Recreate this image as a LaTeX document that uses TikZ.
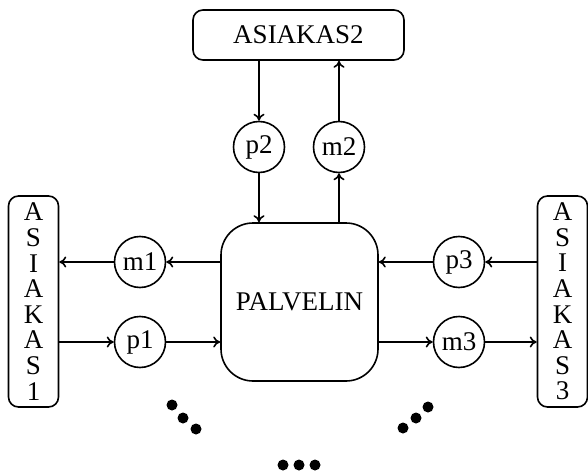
\documentclass[tikz,border=0pt]{standalone}
\usepackage{fontspec}
\setmainfont{Liberation Serif}
\usetikzlibrary{arrows.meta}
\tikzset{
  base/.style={draw, line width=1.6pt, inner sep=0pt, font=\fontsize{27}{25.6}\selectfont},
  client/.style={base, rounded corners=10pt},
  server/.style={base, rounded corners=32pt, minimum width=157pt, minimum height=158pt},
  msg/.style={base, circle, minimum size=51pt},
  vclient/.style={client, align=center, minimum width=50pt, minimum height=211pt},
  flow/.style={line width=1.6pt, -{To[length=7pt,width=11pt,line width=1.6pt]}},
  dot/.style={fill, circle, inner sep=0pt, minimum size=11pt}
}
\begin{document}
\begin{tikzpicture}[x=1pt,y=-1pt]
\useasboundingbox (0,0) rectangle (588,473);
\node[client, minimum width=211pt, minimum height=50pt] (A2) at (298.5,35) {ASIAKAS2};
\node[server] (P) at (299.5,302) {PALVELIN};
\node[vclient] (A1) at (33.5,301.5) {A\\S\\I\\A\\K\\A\\S\\1};
\node[vclient] (A3) at (562.5,301.5) {A\\S\\I\\A\\K\\A\\S\\3};
\node[msg] (p2) at (259,147) {p2};
\node[msg] (m2) at (339,147) {m2};
\node[msg] (m1) at (140,262) {m1};
\node[msg] (p1) at (140,342) {p1};
\node[msg] (p3) at (459,262) {p3};
\node[msg] (m3) at (459,342) {m3};
% connectors
\draw[flow] (A2.south -| p2) -- (p2);
\draw[flow] (p2) -- (p2 |- P.north);
\draw[flow] (m2 |- P.north) -- (m2);
\draw[flow] (m2) -- (m2 |- A2.south);
\draw[flow] (P.west |- m1) -- (m1);
\draw[flow] (m1) -- (A1.east |- m1);
\draw[flow] (A1.east |- p1) -- (p1);
\draw[flow] (p1) -- (P.west |- p1);
\draw[flow] (A3.west |- p3) -- (p3);
\draw[flow] (p3) -- (P.east |- p3);
\draw[flow] (P.east |- m3) -- (m3);
\draw[flow] (m3) -- (A3.west |- m3);
% dots
\node[dot] (d1) at (172,405) {};
\node[dot] (d2) at (183,418) {};
\node[dot] (d3) at (196,429) {};
\node[dot] (d4) at (403,428) {};
\node[dot] (d5) at (416,418) {};
\node[dot] (d6) at (428,407) {};
\node[dot] (d7) at (283,465) {};
\node[dot] (d8) at (299,465) {};
\node[dot] (d9) at (315,465) {};
\end{tikzpicture}
\end{document}
